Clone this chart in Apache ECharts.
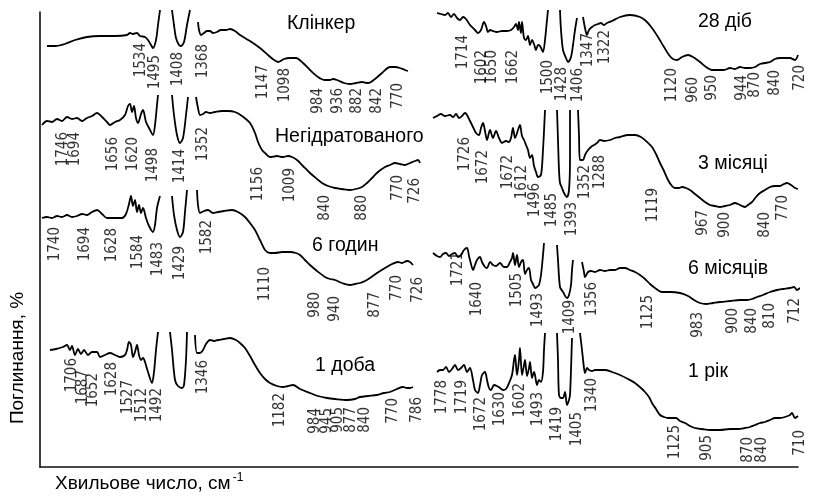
<!DOCTYPE html>
<html>
<head>
<meta charset="utf-8">
<script src="https://cdn.jsdelivr.net/npm/echarts@6/dist/echarts.min.js"></script>
<style>
html,body{margin:0;padding:0;background:#fff;}
#chart{width:817px;height:501px;}
</style>
</head>
<body>
<div id="chart"></div>
<script>
// Figure coordinates: x = position along the wavenumber strip, y = offset absorbance (axis inverted)
var B = ['-', '-'];

// ---------- Left panel ----------
var klinkerCurve = [[47,46],[55,46],[65,44],[75,40],[87,37],[100,36],[115,36],[127,35],[130,33],[133,34],[137,33],[140,36],[145,37],[148,40],[151,45],[153,48],[156,40],[158,25],[160,10],
  B,[172,10],[174,25],[176,38],[179,45],[181,46],[184,42],[187,25],[190,10],
  B,[198,22],[199,30],[201,35],[204,33],[207,31],[210,31],[213,33],[217,32],[221,30],[226,30],[230,29],[235,31],[240,35],[250,41],[260,48],[268,55],[274,60],[278,62],[284,59],[290,58],[296,58],[303,63],[310,70],[318,77],[325,80],[330,80],[333,79],[337,80],[344,83],[350,84],[356,83],[362,82],[368,83],[375,79],[382,73],[390,67],[395,67],[400,68],[405,70],[408,71]];
var klinkerPeaks = [[141,43,'1534'],[155,55,'1495'],[178,52,'1408'],[203,44,'1368'],[263,65,'1147'],[285,68,'1098'],[318,88,'984'],[338,88,'936'],[357,88,'882'],[377,88,'842'],[398,83,'770']];

var unhydratedCurve = [[42,125],[47,121],[52,122],[57,119],[62,121],[67,117],[72,119],[77,118],[82,121],[87,118],[92,116],[97,113],[102,117],[107,122],[110,125],[115,122],[120,120],[125,115],[128,106],[130,104],[132,112],[134,106],[136,118],[138,123],[141,114],[143,110],[146,122],[149,128],[153,135],[155,125],[157,105],[158,95],
  B,[172,95],[174,115],[177,135],[180,143],[183,138],[186,115],[188,97],
  B,[196,97],[198,108],[200,115],[203,114],[206,112],[210,113],[215,112],[222,111],[228,111],[235,112],[242,116],[250,123],[255,133],[258,142],[262,150],[265,153],[270,157],[277,156],[283,157],[288,156],[292,157],[297,160],[303,166],[310,173],[317,179],[322,183],[328,186],[335,188],[342,189],[350,190],[356,189],[362,187],[367,183],[372,178],[378,172],[385,167],[390,165],[395,163],[400,164],[405,165],[410,163],[415,161],[418,160],[420,163]];
var unhydratedPeaks = [[63,132,'1746'],[75,132,'1694'],[113,137,'1656'],[133,137,'1620'],[153,148,'1498'],[180,149,'1414'],[203,127,'1352'],[258,167,'1156'],[290,168,'1009'],[325,195,'840'],[362,195,'880'],[398,175,'770'],[415,178,'726']];

var sixHoursCurve = [[42,218],[47,217],[52,218],[57,216],[62,217],[67,215],[72,217],[77,216],[82,214],[87,215],[92,212],[97,210],[102,214],[107,218],[112,218],[117,218],[122,218],[126,214],[129,204],[131,196],[133,206],[135,200],[137,212],[139,205],[141,213],[143,208],[146,218],[149,226],[153,232],[155,225],[157,208],[160,196],
  B,[172,196],[174,215],[177,230],[180,237],[183,232],[185,212],[187,190],
  B,[197,190],[198,205],[200,213],[204,211],[208,210],[213,213],[218,212],[224,211],[232,210],[238,212],[245,217],[250,223],[255,230],[260,240],[265,250],[270,253],[275,253],[282,252],[290,252],[296,253],[300,255],[305,260],[310,265],[317,271],[325,277],[330,279],[335,280],[342,283],[350,285],[355,284],[360,283],[365,281],[370,278],[377,273],[385,268],[392,264],[398,262],[402,263],[407,261],[410,262],[413,265]];
var sixHoursPeaks = [[55,227,'1740'],[85,227,'1694'],[112,228,'1628'],[138,235,'1584'],[158,242,'1483'],[180,246,'1429'],[207,220,'1582'],[265,267,'1110'],[315,292,'980'],[335,296,'940'],[375,292,'877'],[397,275,'770'],[418,277,'726']];

var oneDayCurve = [[50,350],[56,349],[63,347],[67,345],[70,350],[72,346],[75,355],[78,349],[81,354],[84,350],[88,355],[92,352],[97,352],[100,357],[105,355],[110,353],[115,355],[120,357],[125,355],[127,350],[129,342],[131,345],[133,357],[135,352],[137,345],[139,355],[141,360],[143,358],[145,362],[148,372],[152,383],[154,372],[156,350],[158,332],
  B,[170,332],[172,350],[175,380],[178,386],[182,388],[184,385],[186,360],[187,332],
  B,[195,335],[197,353],[200,353],[203,350],[206,344],[210,340],[214,341],[218,340],[224,339],[230,338],[236,340],[240,343],[245,348],[250,356],[255,365],[260,373],[265,379],[270,383],[277,386],[283,387],[288,386],[293,385],[300,389],[310,393],[318,396],[327,398],[335,399],[347,400],[355,399],[360,397],[368,396],[377,395],[384,393],[390,392],[397,389],[403,387],[407,388],[410,388],[413,387]];
var oneDayPeaks = [[72,358,'1706'],[83,370,'1687'],[93,373,'1652'],[112,362,'1628'],[128,380,'1527'],[142,388,'1512'],[157,388,'1492'],[203,360,'1346'],[280,393,'1182'],[315,408,'984'],[327,408,'945'],[338,407,'905'],[351,407,'877'],[365,407,'840'],[393,398,'770'],[417,397,'786']];

// ---------- Right panel ----------
var days28Curve = [[437,13],[441,14],[445,15],[448,13],[451,17],[454,14],[457,18],[460,20],[463,17],[466,19],[470,25],[475,30],[478,33],[481,30],[484,22],[486,26],[488,32],[490,30],[493,31],[497,32],[502,31],[507,31],[511,30],[514,27],[516,24],[518,30],[519,22],[521,33],[522,22],[524,38],[526,40],[528,36],[530,45],[532,40],[534,44],[536,50],[538,45],[540,46],[543,52],[545,40],[547,20],[548,10],
  B,[560,10],[561,30],[563,50],[566,58],[568,62],[571,57],[573,45],[575,30],[577,18],
  B,[583,17],[585,28],[587,35],[589,30],[592,27],[595,25],[598,24],[601,23],[604,25],[607,23],[612,21],[620,17],[630,15],[640,17],[646,21],[652,28],[658,37],[664,47],[669,55],[673,59],[677,60],[682,57],[688,55],[693,57],[700,62],[706,67],[712,70],[718,70],[724,70],[730,68],[735,69],[740,67],[745,68],[750,68],[755,67],[760,64],[765,63],[770,62],[775,59],[780,58],[785,58],[790,58],[795,60],[798,55]];
var days28Peaks = [[463,35,'1714'],[482,50,'1602'],[492,50,'1650'],[513,50,'1662'],[548,60,'1500'],[562,67,'1428'],[578,68,'1406'],[588,33,'1347'],[605,30,'1322'],[672,68,'1120'],[693,77,'960'],[712,75,'950'],[742,75,'944'],[755,72,'870'],[775,70,'840'],[800,65,'720']];

var months3Curve = [[433,118],[437,116],[441,114],[445,116],[450,115],[453,117],[456,114],[459,118],[462,116],[465,113],[467,115],[470,121],[473,127],[476,133],[479,135],[481,128],[483,123],[485,131],[487,140],[490,130],[493,138],[496,131],[499,138],[502,143],[506,141],[509,142],[511,138],[513,128],[515,138],[518,130],[520,125],[522,136],[524,140],[526,145],[528,150],[530,158],[532,155],[534,166],[536,172],[538,177],[541,175],[543,150],[545,110],
  B,[557,110],[558,140],[559,170],[560,183],[562,188],[564,193],[567,197],[569,190],[570,160],[570,110],
  B,[578,110],[579,135],[580,160],[583,160],[585,155],[588,150],[591,147],[594,145],[597,143],[600,140],[604,141],[610,140],[615,138],[620,137],[628,135],[635,135],[641,137],[646,141],[652,147],[656,154],[660,163],[664,171],[668,180],[672,186],[675,188],[679,188],[682,187],[686,188],[690,190],[695,194],[700,198],[705,202],[710,205],[715,206],[720,207],[725,206],[730,205],[735,203],[738,204],[742,206],[745,207],[748,205],[752,202],[756,197],[760,193],[765,190],[770,187],[775,186],[780,186],[784,184],[787,183],[791,185],[795,188],[798,189]];
var months3Peaks = [[465,137,'1726'],[483,150,'1672'],[508,155,'1672'],[522,165,'1612'],[535,183,'1496'],[552,193,'1485'],[572,202,'1393'],[585,165,'1352'],[600,155,'1288'],[653,188,'1119'],[703,210,'967'],[725,212,'900'],[765,212,'840'],[783,195,'770']];

var months6Curve = [[433,253],[437,256],[440,257],[443,254],[446,253],[449,256],[452,254],[455,253],[458,257],[461,255],[464,250],[467,248],[469,256],[471,264],[473,270],[475,265],[477,260],[480,257],[482,262],[485,267],[487,268],[490,262],[493,265],[496,266],[500,263],[504,267],[507,267],[510,262],[512,258],[513,253],[515,265],[517,255],[519,267],[521,262],[523,260],[525,274],[527,270],[529,268],[531,280],[533,284],[535,288],[537,287],[539,285],[541,275],[543,255],[544,243],
  B,[557,245],[558,260],[560,287],[563,292],[567,298],[569,295],[571,285],[572,270],[573,260],
  B,[582,262],[584,272],[585,277],[588,272],[591,271],[595,272],[600,270],[605,271],[610,270],[615,270],[620,268],[625,268],[630,270],[635,272],[640,275],[645,279],[650,284],[655,288],[662,292],[670,292],[680,293],[688,296],[694,300],[700,303],[706,304],[713,303],[720,302],[730,301],[740,300],[747,300],[752,299],[757,297],[763,295],[770,292],[777,290],[783,289],[790,288],[794,287],[797,290],[800,288]];
var months6Peaks = [[458,252,'1721'],[477,282,'1640'],[517,273,'1505'],[538,293,'1493'],[570,300,'1409'],[592,282,'1356'],[648,295,'1125'],[698,312,'983'],[733,308,'900'],[752,308,'840'],[770,303,'810'],[795,298,'712']];

var year1Curve = [[437,372],[440,370],[443,370],[446,367],[449,372],[452,369],[455,365],[458,370],[461,368],[464,365],[467,372],[470,368],[473,380],[475,390],[478,393],[480,385],[482,375],[485,372],[487,380],[489,388],[491,390],[494,385],[497,386],[500,388],[503,390],[506,389],[509,383],[512,375],[514,360],[515,355],[517,375],[519,360],[520,348],[522,375],[524,365],[525,360],[527,376],[529,368],[530,362],[532,378],[534,372],[535,375],[537,385],[539,380],[541,382],[543,372],[544,350],[545,333],
  B,[557,333],[558,360],[559,395],[561,398],[563,398],[565,392],[567,405],[569,400],[570,395],[571,370],[572,338],
  B,[580,333],[582,350],[584,368],[585,373],[587,368],[589,370],[592,371],[595,370],[600,370],[605,370],[612,372],[620,375],[628,379],[635,383],[641,388],[645,392],[649,397],[652,403],[656,409],[660,415],[664,417],[668,418],[672,418],[676,418],[680,421],[685,423],[690,426],[695,428],[702,429],[710,430],[720,430],[730,429],[738,429],[745,428],[750,427],[755,425],[760,423],[765,422],[770,420],[775,418],[780,418],[785,417],[790,415],[792,413],[795,418],[798,416]];
var year1Peaks = [[442,380,'1778'],[462,380,'1719'],[481,397,'1672'],[500,392,'1630'],[520,383,'1602'],[538,392,'1493'],[557,407,'1419'],[577,412,'1405'],[592,378,'1340'],[675,425,'1125'],[707,435,'905'],[748,437,'870'],[762,437,'840'],[800,430,'710']];

// Sample names: [text, left, centerY]
var spectrumTitles = [['Клінкер',287,25],['Негідратованого',275,138],['6 годин',312,247],['1 доба',315,367],
                      ['28 діб',698,23],['3 місяці',698,165],['6 місяців',688,270],['1 рік',688,373]];

var yAxisName = 'Поглинання, %';
var xAxisName = 'Хвильове число, см';
var xAxisUnitPower = '-1';

var curves = [klinkerCurve, unhydratedCurve, sixHoursCurve, oneDayCurve, days28Curve, months3Curve, months6Curve, year1Curve];
var peaks = [klinkerPeaks, unhydratedPeaks, sixHoursPeaks, oneDayPeaks, days28Peaks, months3Peaks, months6Peaks, year1Peaks];

var series = [];
curves.forEach(function (c) {
  series.push({
    type: 'line', data: c, showSymbol: false, smooth: 0.3, clip: false, silent: true,
    connectNulls: false,
    lineStyle: { color: '#000', width: 1.8 }
  });
});
peaks.forEach(function (p) {
  series.push({
    type: 'scatter', silent: true, symbolSize: 1, clip: false,
    itemStyle: { color: 'rgba(0,0,0,0)' },
    data: p.map(function (d) { return { value: [d[0], d[1]], name: d[2] }; }),
    label: {
      show: true, position: 'inside', rotate: 90, align: 'right', verticalAlign: 'middle',
      formatter: '{b}', fontFamily: '"DejaVu Sans Condensed", "Liberation Sans", sans-serif', fontSize: 15, color: '#000'
    }
  });
});

var titles = spectrumTitles.map(function (t) {
  return { text: t[0], left: t[1], top: t[2] - 11, padding: 0,
    textStyle: { fontFamily: 'Liberation Sans', fontSize: 19.5, fontWeight: 'normal', color: '#000' } };
});

var chart = echarts.init(document.getElementById('chart'), null, { renderer: 'canvas' });
chart.setOption({
  animation: false,
  backgroundColor: '#fff',
  title: titles,
  grid: { left: 40, right: 19, top: 12, bottom: 34, containLabel: false },
  xAxis: {
    type: 'value', min: 40, max: 798,
    axisLine: { show: true, onZero: false, lineStyle: { color: '#111', width: 1.6 } },
    axisTick: { show: false }, axisLabel: { show: false }, splitLine: { show: false }
  },
  yAxis: {
    type: 'value', min: 12, max: 467, inverse: true,
    axisLine: { show: true, onZero: false, lineStyle: { color: '#111', width: 1.6 } },
    axisTick: { show: false }, axisLabel: { show: false }, splitLine: { show: false }
  },
  graphic: [
    { type: 'text', x: 18, y: 358, rotation: Math.PI / 2,
      style: { text: yAxisName, fontFamily: 'Liberation Sans', fontSize: 19, fill: '#000', align: 'center', verticalAlign: 'middle' } },
    { type: 'text', x: 55, y: 484,
      style: { text: xAxisName + '{sup|' + xAxisUnitPower + '}', fontFamily: 'Liberation Sans', fontSize: 19, fill: '#000', align: 'left', verticalAlign: 'middle',
        rich: { sup: { fontFamily: 'Liberation Sans', fontSize: 12, fill: '#000', verticalAlign: 'bottom', padding: [0, 0, 12, 2] } } } }
  ],
  series: series
});
</script>
</body>
</html>
